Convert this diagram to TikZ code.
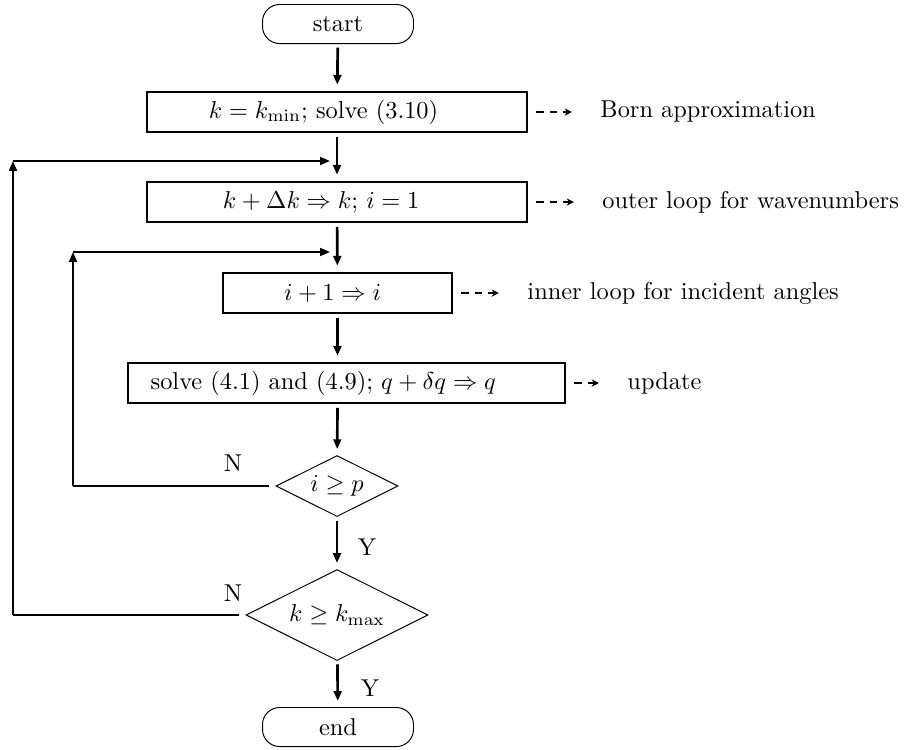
\documentclass[tikz,border=0pt]{standalone}
\usetikzlibrary{shapes.geometric,arrows.meta}
\begin{document}
\begin{tikzpicture}[x=0.41pt,y=-0.41pt,
    term/.style={shape=rectangle,draw,rounded corners=7pt,line width=0.4pt,minimum width=61.9pt,minimum height=16pt,inner sep=0pt},
    stepbox/.style={shape=rectangle,draw,line width=1pt,minimum height=16.4pt,inner sep=0pt},
    test/.style={shape=diamond,draw,line width=0.4pt,inner sep=0pt,shape aspect=2},
    flow/.style={line width=1.1pt,-{Triangle[length=4pt,width=3.2pt]},shorten <=1.5pt,shorten >=2.5pt},
    back/.style={line width=0.8pt},
    backarr/.style={line width=0.8pt,-{Triangle[length=4pt,width=3.2pt]}},
    note/.style={line width=0.5pt,dash pattern=on 3pt off 2.5pt,-{Stealth[length=3pt,width=3pt]},shorten <=3.3pt,shorten >=11.5pt},
    remark/.style={anchor=west,inner sep=0pt}]
    \useasboundingbox (0,0) rectangle (904,749);
    % main column
    \node[term] (start) at (338,24) {start};
    \node[stepbox,minimum width=155.8pt] (init) at (337,112) {$k=k_{\min}$; solve (3.10)\hspace*{11pt}};
    \node[stepbox,minimum width=155.8pt] (outer) at (337,202) {$k+\Delta k\Rightarrow k$; $i=1$\hspace*{13pt}};
    \node[stepbox,minimum width=93.9pt] (inner) at (337.5,293) {$i+1\Rightarrow i$\hspace*{4pt}};
    \node[stepbox,minimum width=179.2pt] (upd) at (346.5,383) {solve (4.1) and (4.9); $q+\delta q\Rightarrow q$\hspace*{19pt}};
    \node[test,minimum width=50pt,minimum height=25pt] (ip) at (337,486) {$i\ge p$};
    \node[test,minimum width=74.6pt,minimum height=37.3pt] (kmax) at (337,615) {$k\ge k_{\max}$};
    \node[term] (end) at (338,727) {end};
    \draw[flow] (start) -- (init);
    \draw[flow] (init) -- (outer);
    \draw[flow] (outer) -- (inner);
    \draw[flow] (inner) -- (inner |- upd.north);
    \draw[flow] (inner |- upd.south) -- (ip);
    \draw[flow] (ip) -- (kmax);
    \draw[flow] (kmax) -- (end);
    \node (yes1) at (367,547) {Y};
    \node (yes2) at (370,688) {Y};
    % loops back
    \coordinate (inA) at (73,486);
    \coordinate (inB) at (73,252);
    \coordinate (inC) at (330,252);
    \draw[back,shorten <=2.5pt] (ip.west) -- (inA);
    \draw[backarr] (inA) -- (inB);
    \draw[backarr] (inB) -- (inC);
    \node (no1) at (233,463) {N};
    \coordinate (outA) at (13,615);
    \coordinate (outB) at (13,161);
    \coordinate (outC) at (330,161);
    \draw[back,shorten <=2.5pt] (kmax.west) -- (outA);
    \draw[backarr] (outA) -- (outB);
    \draw[backarr] (outB) -- (outC);
    \node (no2) at (233,593) {N};
    % remarks
    \node[remark] (born) at (600,112) {Born approximation};
    \node[remark] (wave) at (602,202) {outer loop for wavenumbers};
    \node[remark] (angle) at (527,293) {inner loop for incident angles};
    \node[remark] (newq) at (627,383) {update};
    \draw[note] (init.east) -- (born.west);
    \draw[note] (outer.east) -- (wave.west);
    \draw[note] (inner.east) -- (angle.west);
    \draw[note] (upd.east) -- (newq.west);
\end{tikzpicture}
\end{document}
